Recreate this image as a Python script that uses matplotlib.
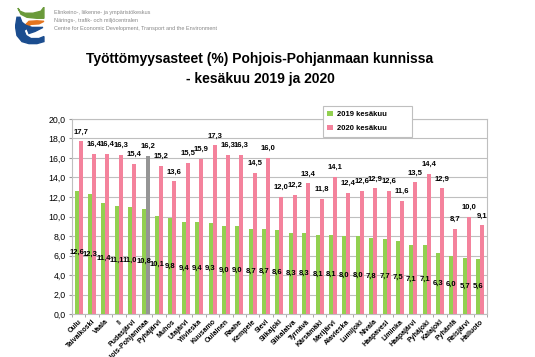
import matplotlib
matplotlib.use("Agg")
import matplotlib.pyplot as plt
import numpy as np
from matplotlib.patches import Polygon

plt.rcParams["font.family"] = ["Liberation Sans", "DejaVu Sans"]

kunnat = ['Oulu', 'Taivalkoski', 'Vaala', 'Ii', 'Pudasjärvi', 'Pohjois-Pohjanmaa',
          'Pyhäjärvi', 'Muhos', 'Utajärvi', 'Ylivieska', 'Kuusamo', 'Oulainen',
          'Raahe', 'Kempele', 'Sievi', 'Siikajoki', 'Siikalatva', 'Tyrnävä',
          'Kärsämäki', 'Merijärvi', 'Alavieska', 'Lumijoki', 'Nivala', 'Haapavesi',
          'Liminka', 'Haapajärvi', 'Pyhäjoki', 'Kalajoki', 'Pyhäntä', 'Reisjärvi',
          'Hailuoto']
v2019 = [12.6, 12.3, 11.4, 11.1, 11.0, 10.8, 10.1, 9.8, 9.4, 9.4, 9.3, 9.0, 9.0,
         8.7, 8.7, 8.6, 8.3, 8.3, 8.1, 8.1, 8.0, 8.0, 7.8, 7.7, 7.5, 7.1, 7.1,
         6.3, 6.0, 5.7, 5.6]
v2020 = [17.7, 16.4, 16.4, 16.3, 15.4, 16.2, 15.2, 13.6, 15.5, 15.9, 17.3, 16.3,
         16.3, 14.5, 16.0, 12.0, 12.2, 13.4, 11.8, 14.1, 12.4, 12.6, 12.9, 12.6,
         11.6, 13.5, 14.4, 12.9, 8.7, 10.0, 9.1]

green = '#92D050'
pink = '#F4829C'
grey = '#959595'

fig = plt.figure(figsize=(5.35, 3.57), dpi=100)
ax = fig.add_axes([0.1346, 0.1204, 0.7755, 0.5463])

x = np.arange(len(kunnat))
w = 0.3
c2020 = [grey if k == 'Pohjois-Pohjanmaa' else pink for k in kunnat]
ax.bar(x - w / 2, v2019, w, color=green, label='2019 kesäkuu', zorder=3)
ax.bar(x + w / 2, v2020, w, color=c2020, label='2020 kesäkuu', zorder=3)

def fmt(v):
    return f'{v:.1f}'.replace('.', ',')

for i in x:
    ax.text(i - w / 2, v2019[i] / 2, fmt(v2019[i]), ha='center', va='center',
            fontsize=5.5, fontweight='bold', zorder=4)
    ax.text(i + w / 2, v2020[i] + 0.6, fmt(v2020[i]), ha='center', va='bottom',
            fontsize=5.5, fontweight='bold', zorder=4)

ax.set_ylim(0, 20)
ax.set_xlim(-0.5, len(kunnat) - 0.5)
ax.set_yticks(np.arange(0, 21, 2))
ax.set_yticklabels([fmt(v) for v in np.arange(0, 21, 2)], fontsize=6.3)
ax.yaxis.grid(True, color='#BFBFBF', linewidth=0.8, zorder=0)
ax.set_xticks(x)
ax.set_xticklabels(kunnat, rotation=45, ha='right', rotation_mode='anchor',
                   fontsize=5, fontweight='bold')
ax.set_xticks(np.arange(-0.5, len(kunnat), 1), minor=True)
ax.tick_params(axis='x', which='major', length=0, pad=3)
ax.tick_params(axis='x', which='minor', length=2.5, color='#999999')
ax.tick_params(axis='y', length=2.5, color='#999999', pad=2)
for s in ax.spines.values():
    s.set_color('#BFBFBF')
    s.set_linewidth(0.8)

leg = ax.legend(loc='upper right', bbox_to_anchor=(0.82, 1.065),
                prop={'weight': 'bold', 'size': 5.5}, handlelength=0.7,
                handleheight=0.7, handletextpad=0.5, fancybox=False,
                edgecolor='#BFBFBF', borderpad=0.6, labelspacing=0.9,
                borderaxespad=0, framealpha=1)
leg.get_frame().set_linewidth(0.8)
# make the legend box a bit wider like the original
for t in leg.get_texts():
    t.set_text(t.get_text() + '          ')

fig.text(0.486, 0.835, 'Työttömyysasteet (%) Pohjois-Pohjanmaan kunnissa',
         ha='center', va='center', fontsize=10, fontweight='bold')
fig.text(0.486, 0.78, '- kesäkuu 2019 ja 2020', ha='center', va='center',
         fontsize=10, fontweight='bold')

# logo
lg = fig.add_axes([0.028, 0.875, 0.056, 0.105])
lg.set_xlim(0, 30)
lg.set_ylim(0, 37)
lg.axis('off')
lg.add_patch(Polygon([[3, 36], [6, 30], [12, 27], [22, 26], [29, 26], [29, 37],
                      [26, 33], [18, 31], [10, 31], [5, 33]], color='#6A9A3A'))
lg.add_patch(Polygon([[10, 19], [14, 23], [22, 23.5], [29, 23], [24, 20.5],
                      [16, 20], [13, 18]], color='#E3741E'))
lg.add_patch(Polygon([[2, 27], [0.5, 18], [2, 9], [7, 3], [14, 1], [22, 1],
                      [29, 3], [29, 8], [24, 6], [16, 6], [11, 9], [9, 14],
                      [12, 16], [14, 11], [20, 13], [28, 17], [17, 17], [11, 19],
                      [7, 22], [5, 27]], color='#1B4D8F'))
fig.text(0.1, 0.965, 'Elinkeino-, liikenne- ja ympäristökeskus', fontsize=4,
         color='#888888', va='center')
fig.text(0.1, 0.943, 'Närings-, trafik- och miljöcentralen', fontsize=4,
         color='#888888', va='center')
fig.text(0.1, 0.921, 'Centre for Economic Development, Transport and the Environment',
         fontsize=4, color='#888888', va='center')

fig.savefig('out.png', dpi=100)
